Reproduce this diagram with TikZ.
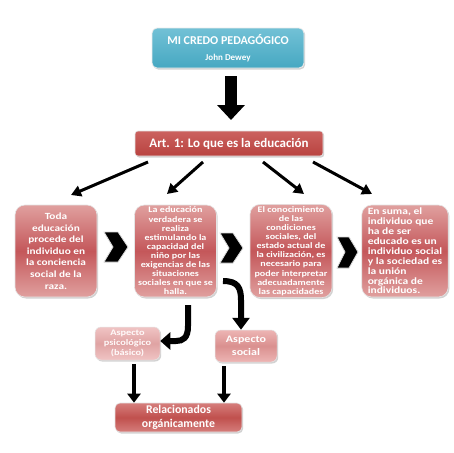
\documentclass[tikz,border=0pt]{standalone}
\usepackage{fontspec}
\setmainfont{Carlito}[BoldFont={Carlito Bold}]
\newfontfamily\widefont{Carlito}[FakeStretch=1.2,BoldFont={Carlito Bold},BoldFeatures={FakeStretch=1.2}]
\usetikzlibrary{arrows.meta,shadows}
\definecolor{tealL}{HTML}{72C1D6}
\definecolor{tealM}{HTML}{46A8C2}
\definecolor{artT}{HTML}{CB625F}
\definecolor{artB}{HTML}{B9423F}
\definecolor{redE}{HTML}{E0A09F}
\definecolor{redM}{HTML}{C4575A}
\definecolor{pinkE}{HTML}{F0C4C4}
\definecolor{pinkM}{HTML}{E0A3A3}
\definecolor{socE}{HTML}{EDB5B4}
\definecolor{socM}{HTML}{DA908F}
\definecolor{relE}{HTML}{D67E7C}
\definecolor{relM}{HTML}{C0504D}
\tikzset{
  shade/.style={drop shadow={opacity=0.35,shadow xshift=1.2pt,shadow yshift=-1.5pt}},
  titlebox/.style={shade,draw=white!85!gray,line width=0.8pt,rounded corners=5pt,
    top color=tealL,bottom color=tealM,text=white,align=center,
    minimum width=152pt,minimum height=40pt,inner sep=0pt},
  artbox/.style={shade,draw=white!80!gray,line width=0.6pt,rounded corners=3pt,
    top color=artT,bottom color=artB,text=white,font=\bfseries\fontsize{13}{15}\selectfont,
    minimum width=188pt,minimum height=25pt,inner sep=0pt},
  redbox/.style={shade,draw=white!80!gray,line width=0.6pt,rounded corners=10pt,
    top color=redE,bottom color=redE,middle color=redM,text=white,
    minimum width=82pt,minimum height=92pt,inner sep=2pt},
  psicobox/.style={shade,draw=white!80!gray,line width=0.5pt,rounded corners=6pt,
    top color=pinkE,bottom color=pinkE,middle color=pinkM,text=white!92!pink,
    minimum width=65pt,minimum height=33pt,inner sep=0pt,align=center},
  socbox/.style={shade,draw=white!80!gray,line width=0.5pt,rounded corners=6pt,
    top color=socE,bottom color=socE,middle color=socM,text=white,
    minimum width=62pt,minimum height=32pt,inner sep=0pt,align=center},
  relbox/.style={shade,draw=white!80!gray,line width=0.6pt,rounded corners=5pt,
    top color=relE,bottom color=relE,middle color=relM,text=white,
    font=\bfseries\fontsize{11.8}{13.5}\selectfont,align=center,
    minimum width=127pt,minimum height=29pt,inner sep=0pt},
  diagarrow/.style={line width=3pt,-{Triangle[length=10pt,width=11pt]}},
  chev/.style={fill=black,draw=white!70!gray,line width=0.8pt,line join=miter},
}
\begin{document}
\begin{tikzpicture}[x=1pt,y=-1pt]
\useasboundingbox (0,0) rectangle (453,453);
\fill[white] (0,0) rectangle (453,453);

% title
\node[titlebox] (title) at (228,48) {{\bfseries\fontsize{12}{14}\selectfont MI CREDO PEDAGÓGICO}\\[4pt]{\bfseries\fontsize{9}{10}\selectfont John Dewey}};
\node[artbox] (art) at (229,143.5) {Art. 1: Lo que es la educación};

% big arrow
\draw[line width=12pt,-{Triangle[length=15pt,width=27pt]},draw=black]
  ([yshift=-8pt]title.south -| 231,0) -- (231,120);

% four boxes
\node[redbox,align=center,font=\widefont\bfseries\fontsize{9.4}{11.6}\selectfont] (b1) at (56,251)
 {Toda\\educación\\procede del\\individuo en\\la conciencia\\social de la\\raza.};
\node[redbox,align=center,font=\widefont\bfseries\fontsize{8.4}{9.1}\selectfont] (b2) at (175.5,251)
 {La educación\\verdadera se\\realiza\\estimulando la\\capacidad del\\niño por las\\exigencias de las\\situaciones\\sociales en que se\\halla.};
\node[redbox,align=center,font=\widefont\bfseries\fontsize{8.4}{9.1}\selectfont] (b3) at (291,251)
 {El conocimiento\\de las\\condiciones\\sociales, del\\estado actual de\\la civilización, es\\necesario para\\poder interpretar\\adecuadamente\\las capacidades};
\node[redbox,align=left,font=\widefont\bfseries\fontsize{9.6}{9.9}\selectfont,inner xsep=6pt] (b4) at (405,251)
 {En suma, el\\individuo que\\ha de ser\\educado es un\\individuo social\\y la sociedad es\\la unión\\orgánica de\\individuos.};

% diagonal arrows
\coordinate (s1) at (148,162); \coordinate (e1) at (71,195);
\coordinate (s2) at (203,162); \coordinate (e2) at (167,194);
\coordinate (s3) at (263,162); \coordinate (e3) at (304,194);
\coordinate (s4) at (313,162); \coordinate (e4) at (372,194);
\foreach \i in {1,...,4}{\draw[diagarrow] (s\i) -- (e\i);}

% chevrons
\draw[chev] (104,232) -- (118,232) -- (128,247) -- (118,262) -- (104,262) -- (113,247) -- cycle;
\draw[chev] (220,233) -- (233,233) -- (243,248) -- (233,263) -- (220,263) -- (229,248) -- cycle;
\draw[chev] (337,237) -- (349,237) -- (358,252) -- (349,268) -- (337,268) -- (345,252) -- cycle;

% lower boxes
\node[psicobox,font=\widefont\bfseries\fontsize{8.6}{9.8}\selectfont] (psico) at (127.5,343.5) {Aspecto\\psicológico\\(básico)};
\node[socbox,font=\widefont\bfseries\fontsize{10}{12.5}\selectfont] (soc) at (246,346) {Aspecto\\social};
\node[relbox] (rel) at (178.5,417.5) {Relacionados\\orgánicamente};

% curved arrows
\coordinate (c1) at (223,281);
\draw[line width=6pt,-{Triangle[length=12pt,width=17pt]}]
  (c1) .. controls (238,281) and (241,288) .. (241,300) -- (soc.north -| 241,0);
\coordinate (c2) at (188,305);
\draw[line width=6pt,-{Triangle[length=10pt,width=17pt]}]
  (c2) -- (188,326) .. controls (188,338) and (183,341) .. (176,341) -- (psico.east |- 0,341);

% bottom arrows
\coordinate (d1) at (134,364); \coordinate (d2) at (224,366);
\draw[line width=4.5pt,-{Triangle[length=9pt,width=13pt]}] (d1) -- (rel.north -| d1);
\draw[line width=4.5pt,-{Triangle[length=9pt,width=13pt]}] (d2) -- (rel.north -| d2);
\end{tikzpicture}
\end{document}
